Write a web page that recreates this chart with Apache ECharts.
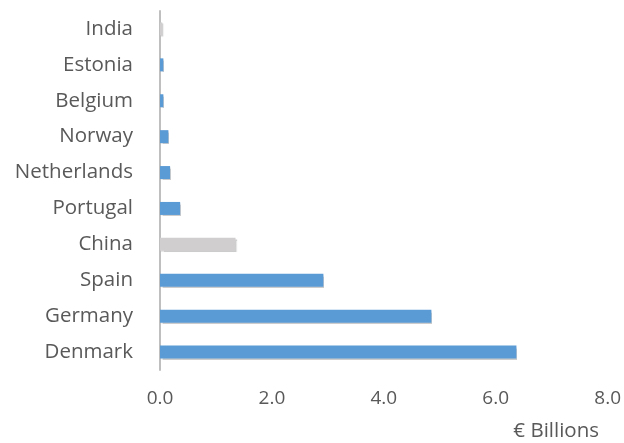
<!DOCTYPE html>
<html>
<head>
<meta charset="utf-8">
<script src="https://cdn.jsdelivr.net/npm/echarts@6/dist/echarts.min.js"></script>
<style>html,body{margin:0;padding:0;background:#fff;}#c{width:624px;height:443px;}</style>
</head>
<body>
<div id="c"></div>
<script>
const categories = ['Denmark','Germany','Spain','China','Portugal','Netherlands','Norway','Belgium','Estonia','India'];
const values = [6.37, 4.85, 2.92, 1.35, 0.36, 0.18, 0.15, 0.06, 0.06, 0.04];
const nonEuropean = ['China','India'];
const xTicks = [0, 2, 4, 6, 8];

const chart = echarts.init(document.getElementById('c'));
chart.setOption({
  animation: false,
  grid: {left: 160, right: 16, top: 11, bottom: 73, containLabel: false},
  xAxis: {
    type: 'value', min: xTicks[0], max: xTicks[xTicks.length-1], interval: xTicks[1]-xTicks[0],
    splitLine: {show: false}, axisLine: {show: false}, axisTick: {show: false},
    axisLabel: {formatter: v => v.toFixed(1), color: '#595959', fontSize: 19, fontFamily: 'Open Sans', margin: 19}
  },
  yAxis: {
    type: 'category', data: categories,
    axisLine: {show: true, lineStyle: {color: '#BFBFBF', width: 2}},
    axisTick: {show: false},
    axisLabel: {color: '#595959', fontSize: 20.5, fontFamily: 'Open Sans', margin: 27}
  },
  graphic: [{type: 'text', right: 25, bottom: 1, style: {text: '€ Billions', fill: '#595959', fontSize: 20.5, fontFamily: 'Open Sans'}}],
  series: [{
    type: 'bar', barWidth: 13,
    data: values.map((v, i) => ({
      value: v,
      itemStyle: {color: nonEuropean.includes(categories[i]) ? '#D0CECE' : '#5B9BD5'}
    })),
    itemStyle: {shadowColor: 'rgba(0,0,0,0.2)', shadowOffsetX: 1, shadowOffsetY: 1, shadowBlur: 1}
  }]
});
</script>
</body>
</html>
